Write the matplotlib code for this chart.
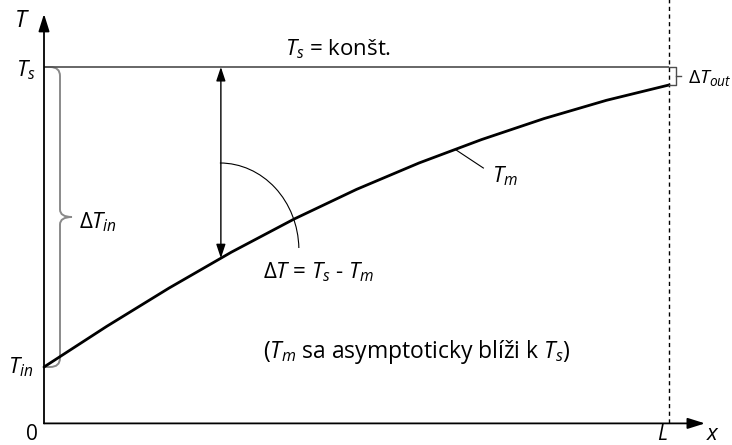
import numpy as np
import matplotlib
matplotlib.use("Agg")
import matplotlib.pyplot as plt
from matplotlib import font_manager
from matplotlib.patches import Arc, PathPatch
from matplotlib.path import Path

# Mean fluid temperature along the pipe, as (T_m - T_in) / (T_s - T_in)
x_rel = [0.0, 0.1, 0.2, 0.3, 0.4, 0.5, 0.6, 0.7, 0.8, 0.9, 1.0]
theta_m = [0.0, 0.135, 0.263, 0.383, 0.493, 0.592, 0.680, 0.758, 0.828, 0.889, 0.940]
T_surface = 1.0
T_inlet = 0.0
x_arrow = 0.283       # where the local difference T_s - T_m is marked
x_leader = 0.658      # where the T_m label points to the curve


def pick_family(candidates):
    names = {}
    for f in font_manager.fontManager.ttflist:
        names.setdefault(f.name, set()).add(f.style)
    for c in candidates:
        if c in names and "italic" in names[c]:
            return c
    for c in candidates:
        if c in names:
            return c
    return "DejaVu Sans"


fam = pick_family(["Open Sans", "Noto Sans", "Lato", "DejaVu Sans"])
plt.rcParams["font.family"] = [fam, "DejaVu Sans"]
plt.rcParams["mathtext.fontset"] = "custom"
plt.rcParams["mathtext.rm"] = fam
plt.rcParams["mathtext.it"] = f"{fam}:italic"
plt.rcParams["mathtext.bf"] = f"{fam}:bold"

fig = plt.figure(figsize=(7.32, 4.45), dpi=100)
ax = fig.add_axes([0, 0, 1, 1])
ax.set_xlim(-0.0704, 1.1008)
ax.set_ylim(-0.26, 1.2233)
ax.axis("off")

x_axis_y = -0.188
FS = 16

# coordinate axes with arrowheads
ax.annotate("", xy=(0, 1.177), xytext=(0, x_axis_y),
            arrowprops=dict(arrowstyle="-|>,head_length=0.7,head_width=0.22",
                            lw=1.3, color="black", shrinkA=0, shrinkB=0,
                            mutation_scale=15))
ax.annotate("", xy=(1.0576, x_axis_y), xytext=(0, x_axis_y),
            arrowprops=dict(arrowstyle="-|>,head_length=0.7,head_width=0.22",
                            lw=1.3, color="black", shrinkA=0, shrinkB=0,
                            mutation_scale=15))

# constant surface temperature
ax.plot([0, x_rel[-1]], [T_surface, T_surface], color="#4d4d4d", lw=1.2,
        solid_capstyle="butt")

# outlet position
ax.plot([x_rel[-1], x_rel[-1]], [x_axis_y, 1.25], color="black", lw=1.0,
        linestyle=(0, (3, 2.5)))

# mean temperature curve
ax.plot(x_rel, theta_m, color="black", lw=2.0, solid_capstyle="round",
        solid_joinstyle="round")

# local temperature difference arrow
t_at_arrow = np.interp(x_arrow, x_rel, theta_m)
ax.annotate("", xy=(x_arrow, T_surface), xytext=(x_arrow, t_at_arrow),
            arrowprops=dict(arrowstyle="<|-|>,head_length=0.6,head_width=0.2",
                            lw=1.0, color="black", shrinkA=0, shrinkB=0,
                            mutation_scale=14))

# arc pointing from the arrow to the formula
ax.add_patch(Arc((x_arrow - 0.0016, 0.39), 2 * 79 / 625, 2 * 87 / 300,
                 theta1=3, theta2=90, color="black", lw=0.8))

# leader line for T_m
t_at_leader = np.interp(x_leader, x_rel, theta_m)
ax.plot([x_leader, x_leader + 0.045], [t_at_leader, t_at_leader - 0.062],
        color="black", lw=0.8)

# brace for the inlet difference
bx = 16 / 625
tip = 28 / 625
rx = 10 / 625
ry = 9 / 300
mid = 0.5 * (T_surface + T_inlet)
verts = [
    (0, T_surface), (bx - rx, T_surface), (bx, T_surface), (bx, T_surface - ry),
    (bx, mid + 0.025), (bx, mid), (tip, mid),
    (bx, mid), (bx, mid - 0.025),
    (bx, T_inlet + ry), (bx, T_inlet), (bx - rx, T_inlet), (0, T_inlet),
]
codes = [
    Path.MOVETO, Path.LINETO, Path.CURVE3, Path.CURVE3,
    Path.LINETO, Path.CURVE3, Path.CURVE3,
    Path.CURVE3, Path.CURVE3,
    Path.LINETO, Path.CURVE3, Path.CURVE3, Path.LINETO,
]
ax.add_patch(PathPatch(Path(verts, codes), fill=False, edgecolor="#8a8a8a", lw=1.4))

# small bracket for the outlet difference
t_out = theta_m[-1]
bo = 7 / 625
ax.plot([x_rel[-1], x_rel[-1] + bo, x_rel[-1] + bo, x_rel[-1]],
        [T_surface, T_surface, t_out, t_out], color="#4d4d4d", lw=1.0)
ax.plot([x_rel[-1] + bo, x_rel[-1] + bo + 5 / 625],
        [0.5 * (T_surface + t_out)] * 2, color="#4d4d4d", lw=1.0)

# labels
ax.text(-0.0352, 1.153, r"$T$", fontsize=FS + 1, ha="center", va="center")
ax.text(-0.0144, 0.97, r"$T_s$", fontsize=FS, ha="right", va="baseline")
ax.text(-0.0176, -0.023, r"$T_{in}$", fontsize=FS, ha="right", va="baseline")
ax.text(0.056, 0.463, r"$\Delta T_{in}$", fontsize=FS, ha="left", va="baseline")
ax.text(1.0304, 0.945, r"$\Delta T_{out}$", fontsize=FS - 2, ha="left", va="baseline")
ax.text(0.4704, 1.04, r"$T_s$ = konšt.", fontsize=FS, ha="center", va="baseline")
ax.text(0.3504, 0.2967, r"$\Delta T$ = $T_s$ - $T_m$", fontsize=FS, ha="left",
        va="baseline")
ax.text(0.7168, 0.6167, r"$T_m$", fontsize=FS, ha="left", va="baseline")
ax.text(0.3504, 0.03, r"($T_m$ sa asymptoticky blíži k $T_s$)", fontsize=FS + 0.5,
        ha="left", va="baseline")
ax.text(-0.0208, -0.243, r"$\mathit{0}$", fontsize=FS - 1, ha="center", va="baseline")
ax.text(0.9888, -0.243, r"$L$", fontsize=FS - 1, ha="center", va="baseline")
ax.text(1.0704, -0.243, r"$x$", fontsize=FS, ha="center", va="baseline")

fig.savefig("out.png", dpi=100)
